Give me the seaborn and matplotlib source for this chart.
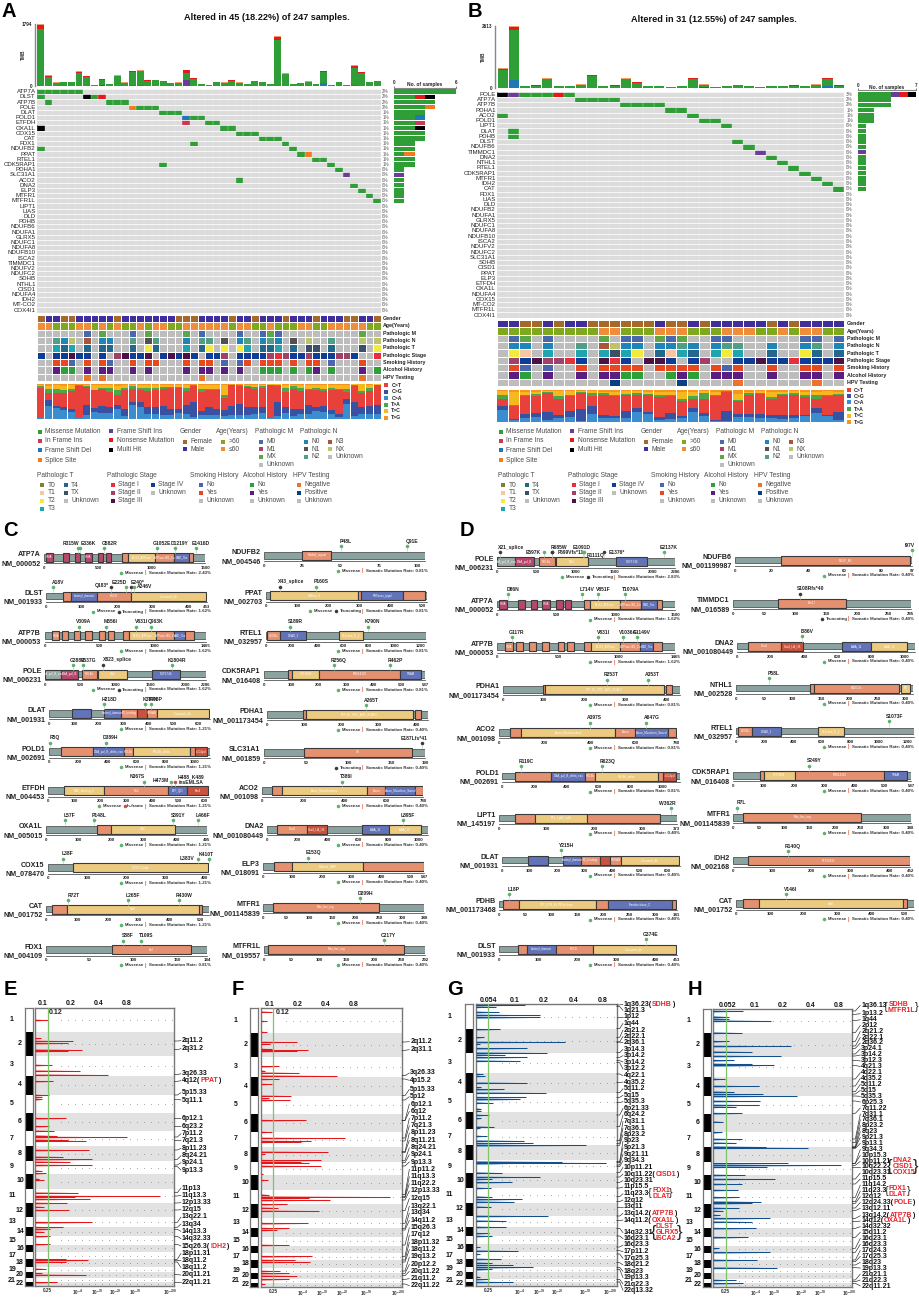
import numpy as np
import seaborn as sns
import matplotlib
matplotlib.use("Agg")
import matplotlib.pyplot as plt
from matplotlib.colors import ListedColormap
from matplotlib.patches import Rectangle
from matplotlib.ticker import NullLocator

# ---- oncoplot A ----
title_a = "Altered in 45 (18.22%) of 247 samples."
genes_a = ["ATP7A", "DLST", "ATP7B", "POLE", "DLAT", "POLD1", "ETFDH", "OXA1L", "COX15", "CAT", "FDX1",
           "NDUFB2", "PPAT", "RTEL1", "CDK5RAP1", "PDHA1", "SLC31A1", "ACO2", "DNA2", "ELP3", "MTFR1",
           "MTFR1L", "LIPT1", "LIAS", "DLD", "PDHB", "NDUFB6", "NDUFA1", "GLRX5", "NDUFC1", "NDUFA8",
           "NDUFB10", "ISCA2", "TIMMDC1", "NDUFV2", "NDUFC2", "SDHB", "NTHL1", "CISD1", "NDUFA4", "IDH2",
           "MT-CO2", "COX4I1"]
pct_a = ["2%"] * 4 + ["1%"] * 11 + ["0%"] * 28
# M missense, D fs del, I inframe ins, S splice, P fs ins, N nonsense, X multi hit
muts_a = [("ATP7A", "M", [0, 1, 2, 3, 4, 5]), ("DLST", "M", [0, 7]), ("DLST", "X", [6]), ("DLST", "N", [8]),
          ("ATP7B", "M", [1, 9, 10, 11]), ("POLE", "S", [12]), ("POLE", "M", [13, 14, 15]),
          ("DLAT", "M", [16, 17, 18]), ("POLD1", "D", [19]), ("POLD1", "M", [20, 21]), ("ETFDH", "I", [19]),
          ("ETFDH", "M", [22, 23]), ("OXA1L", "X", [0]), ("OXA1L", "M", [24, 25]), ("COX15", "M", [26, 27, 28]),
          ("CAT", "M", [29, 30, 31]), ("FDX1", "M", [20, 32]), ("NDUFB2", "M", [0, 33]), ("PPAT", "M", [34]),
          ("PPAT", "S", [35]), ("RTEL1", "M", [36, 37]), ("CDK5RAP1", "M", [16, 38]), ("PDHA1", "M", [39]),
          ("SLC31A1", "P", [40]), ("ACO2", "M", [26]), ("DNA2", "M", [41]), ("ELP3", "M", [42]),
          ("MTFR1", "M", [43]), ("MTFR1L", "M", [44])]
tmb_a = [1794, 292, 88, 98, 98, 410, 273, 29, 195, 58, 292, 88, 419, 448, 156, 175, 136, 78, 88, 458,
         214, 58, 20, 107, 88, 156, 88, 49, 136, 98, 49, 1433, 351, 39, 78, 117, 58, 429, 29, 98,
         20, 585, 390, 107, 136]
tmb_a_red = [117, 25, 5, 5, 5, 25, 25, 3, 20, 5, 20, 5, 25, 25, 8, 8, 8, 3, 3, 60,
             15, 3, 0, 5, 5, 8, 5, 3, 8, 5, 0, 70, 20, 0, 5, 5, 0, 15, 0, 5, 0, 50, 25, 5, 5]
tmb_a_top = [39, 10, 3, 3, 3, 10, 8, 2, 8, 3, 8, 3, 10, 12, 5, 5, 5, 3, 3, 20,
             8, 3, 1, 4, 3, 5, 3, 2, 5, 4, 2, 25, 8, 1, 3, 4, 3, 12, 1, 4, 1, 15, 8, 4, 5]
tmb_a_low = {8: (20, "P"), 12: (10, "D"), 13: (15, "D"), 19: (175, "P"), 37: (78, "D"), 41: (20, "D")}
gender_a = "FMMFFMMMMMFMMMMMMMFFFMMMMFMMFMMMFMMMFMMMFFMMF"
age_a = "OOGGGOOGOGOGGOGOOGGOOOOOOGOOGGOGGGOOGGOOOOOGG"
m_a = {6: "0", 8: "X", 12: "0", 14: "X", 19: "X", 21: "0", 26: "0", 29: "0", 30: "X", 31: "0", 42: "X"}
n_a = {2: "2", 3: "0", 4: "X", 6: "3", 8: "0", 9: "0", 12: "2", 14: "1", 15: "2", 19: "0", 21: "2", 22: "2",
       24: "1", 26: "0", 27: "2", 29: "0", 30: "2", 31: "0", 33: "1", 35: "X", 38: "2", 42: "X", 44: "X"}
t_a = {2: "3", 3: "4", 4: "3", 6: "4", 8: "4", 9: "4", 12: "4", 14: "2", 15: "4", 19: "3", 21: "4", 22: "2",
       24: "2", 26: "2", 27: "3", 29: "4", 30: "4", 31: "3", 33: "4", 35: "X", 36: "X", 38: "4", 42: "X", 44: "2"}
stage_a = {0: "4", 2: "4", 3: "4", 4: "3", 5: "4", 6: "4", 8: "4", 10: "2", 11: "3", 12: "4", 13: "4", 14: "3",
           16: "4", 17: "3", 18: "4", 19: "3", 20: "4", 22: "4", 23: "4", 24: "2", 26: "4", 27: "4", 28: "4",
           29: "4", 30: "2", 31: "1", 32: "2", 33: "4", 34: "4", 35: "2", 36: "4", 37: "4", 38: "4", 39: "2",
           40: "2", 41: "4", 44: "1"}
smoke_a = {2: "Y", 3: "Y", 4: "N", 6: "Y", 8: "Y", 9: "N", 12: "Y", 14: "Y", 15: "Y", 19: "Y", 21: "Y", 22: "Y",
           24: "N", 26: "N", 27: "Y", 29: "Y", 30: "Y", 31: "Y", 33: "Y", 35: "Y", 36: "Y", 38: "N", 42: "Y"}
alcohol_a = {2: "Y", 3: "N", 4: "N", 6: "Y", 8: "Y", 9: "Y", 12: "Y", 14: "Y", 19: "Y", 21: "Y", 22: "Y", 24: "Y",
             26: "Y", 29: "N", 30: "N", 31: "N", 33: "N", 35: "N", 36: "Y", 38: "N", 42: "Y", 44: "N"}
hpv_a = {6: "N", 8: "N", 21: "N", 42: "N"}
# per sample: C>A, C>G, C>T, T>A, T>C (rest is T>G), percent
spec_a = [(3, 0, 87, 5, 3), (38, 15, 20, 12, 10), (32, 5, 38, 12, 10), (27, 8, 40, 7, 12), (20, 10, 50, 6, 10),
          (3, 1, 90, 2, 2), (12, 28, 52, 3, 3), (20, 12, 50, 2, 14), (18, 20, 48, 3, 8), (18, 15, 45, 10, 8),
          (28, 12, 30, 12, 13), (10, 18, 55, 5, 8), (40, 10, 35, 8, 5), (35, 13, 35, 7, 7), (15, 20, 45, 10, 7),
          (15, 18, 50, 5, 8), (12, 25, 50, 5, 5), (12, 18, 58, 4, 5), (16, 12, 60, 4, 5), (15, 25, 40, 10, 6),
          (5, 45, 44, 2, 2), (12, 10, 55, 8, 12), (12, 22, 48, 5, 10), (12, 16, 55, 3, 10), (10, 15, 35, 8, 28),
          (12, 26, 58, 1, 1), (12, 30, 52, 2, 2), (12, 22, 58, 3, 3), (15, 20, 52, 5, 6), (18, 15, 57, 4, 4),
          (3, 1, 92, 2, 1), (8, 40, 45, 3, 3), (18, 15, 45, 10, 8), (10, 20, 55, 8, 5), (15, 15, 50, 8, 10),
          (15, 26, 42, 3, 12), (22, 12, 50, 5, 8), (20, 18, 42, 7, 10), (15, 10, 58, 5, 10), (5, 8, 70, 3, 12),
          (42, 15, 20, 10, 10), (10, 40, 45, 3, 1), (14, 20, 40, 5, 20), (14, 22, 45, 7, 10), (14, 27, 55, 1, 2)]

# ---- oncoplot B ----
title_b = "Altered in 31 (12.55%) of 247 samples."
genes_b = ["POLE", "ATP7A", "ATP7B", "PDHA1", "ACO2", "POLD1", "LIPT1", "DLAT", "PDHB", "DLST", "NDUFB6", "TIMMDC1",
           "DNA2", "NTHL1", "RTEL1", "CDK5RAP1", "MTFR1", "IDH2", "CAT", "FDX1", "LIAS", "DLD", "NDUFB2", "NDUFA1",
           "GLRX5", "NDUFC1", "NDUFA8", "NDUFB10", "ISCA2", "NDUFV2", "NDUFC2", "SLC31A1", "SDHB", "CISD1", "PPAT",
           "ELP3", "ETFDH", "OXA1L", "NDUFA4", "COX15", "MT-CO2", "MTFR1L", "COX4I1"]
pct_b = ["3%", "2%", "2%", "1%", "1%", "1%"] + ["0%"] * 37
muts_b = [("POLE", "X", [0]), ("POLE", "P", [1]), ("POLE", "M", [2, 3, 4, 6]), ("POLE", "N", [5]),
          ("ATP7A", "M", [7, 8, 9, 10]), ("ATP7B", "M", [11, 12, 13, 14]), ("PDHA1", "M", [15, 16]),
          ("ACO2", "M", [0, 17]), ("POLD1", "M", [18, 19]), ("LIPT1", "M", [20]), ("DLAT", "M", [1]),
          ("PDHB", "M", [1]), ("DLST", "M", [21]), ("NDUFB6", "M", [22]), ("TIMMDC1", "P", [23]), ("DNA2", "M", [24]),
          ("NTHL1", "M", [25]), ("RTEL1", "M", [26]), ("CDK5RAP1", "M", [27]), ("MTFR1", "M", [28]),
          ("IDH2", "M", [29]), ("CAT", "M", [30])]
tmb_b = [820, 2613, 70, 100, 395, 85, 85, 140, 535, 70, 100, 395, 240, 56, 56, 28, 56, 410, 140, 20,
         70, 110, 70, 15, 70, 70, 100, 85, 140, 410, 100]
tmb_b_red = [60, 120, 3, 5, 25, 8, 5, 8, 35, 8, 10, 20, 15, 3, 3, 0, 3, 20, 15, 0, 3, 10, 3, 0, 3, 8, 5, 3, 8, 20, 8]
tmb_b_top = [20, 60, 2, 3, 10, 3, 3, 5, 15, 3, 3, 10, 8, 2, 2, 1, 2, 10, 5, 3, 2, 3, 2, 3, 2, 3, 3, 3, 5, 15, 3]
tmb_b_low = {1: (310, "D"), 18: (50, "P"), 29: (70, "D")}
gender_b = "MMFFMFMMFFFFFFMFFMFMMMMMFMFMMMM"
age_b = "GGGGGGGGGOOGGGOOOGGGOOOGGOGOOGG"
m_b = {1: "0", 2: "X", 4: "0", 9: "X", 11: "0", 12: "0", 14: "X", 15: "0", 16: "X", 19: "0", 20: "0", 27: "0",
       28: "0", 30: "0"}
n_b = {1: "0", 2: "0", 4: "0", 7: "2", 9: "3", 10: "X", 11: "0", 12: "0", 14: "0", 15: "0", 16: "2", 17: "0",
       19: "0", 20: "2", 21: "2", 24: "0", 27: "0", 28: "2", 30: "0"}
t_b = {1: "2", 2: "1", 4: "3", 7: "3", 9: "3", 10: "X", 11: "3", 12: "2", 14: "4", 15: "1", 16: "3", 17: "4",
       19: "3", 20: "2", 21: "3", 24: "4", 27: "2", 28: "4", 30: "4"}
stage_b = {1: "2", 2: "4", 3: "3", 4: "2", 5: "2", 6: "1", 7: "4", 9: "3", 10: "1", 11: "4", 13: "3", 14: "3",
           15: "4", 17: "4", 18: "2", 21: "4", 22: "4", 23: "3", 24: "4", 25: "4", 26: "1", 27: "4", 28: "4",
           29: "4", 30: "3"}
smoke_b = {1: "Y", 2: "N", 4: "N", 7: "Y", 9: "Y", 10: "Y", 11: "Y", 12: "Y", 14: "Y", 15: "Y", 16: "Y", 17: "Y",
           19: "Y", 20: "N", 21: "Y", 24: "Y", 27: "Y", 28: "Y", 30: "Y"}
alcohol_b = {1: "Y", 2: "N", 4: "Y", 7: "Y", 9: "Y", 10: "Y", 11: "N", 12: "N", 15: "N", 16: "Y", 17: "N", 19: "Y",
             20: "Y", 21: "Y", 24: "Y", 27: "Y", 28: "Y", 30: "Y"}
hpv_b = {10: "P", 16: "P", 21: "N", 28: "N"}
spec_b = [(38, 13, 20, 15, 10), (6, 4, 40, 3, 42), (12, 14, 55, 5, 8), (15, 15, 52, 6, 7), (8, 25, 58, 3, 3),
          (13, 10, 50, 8, 15), (15, 20, 45, 6, 10), (5, 35, 50, 3, 4), (25, 25, 32, 8, 6), (12, 12, 60, 6, 5),
          (12, 8, 60, 5, 10), (14, 20, 50, 3, 9), (33, 12, 38, 8, 5), (25, 8, 50, 5, 7), (8, 8, 62, 5, 12),
          (10, 20, 50, 5, 10), (12, 8, 45, 8, 22), (33, 12, 27, 10, 12), (18, 12, 42, 20, 5), (5, 3, 72, 5, 10),
          (4, 30, 60, 2, 2), (15, 12, 40, 3, 18), (15, 12, 58, 5, 4), (12, 15, 62, 3, 5), (12, 12, 48, 5, 18),
          (10, 14, 60, 5, 5), (14, 8, 62, 6, 6), (18, 6, 55, 6, 10), (30, 15, 28, 10, 12), (20, 3, 58, 3, 12),
          (8, 25, 52, 3, 5)]

# ---- lollipop proteins: id, length, axis ticks ----
nm_ids = {"ATP7A": "NM_000052", "DLST": "NM_001933", "ATP7B": "NM_000053", "POLE": "NM_006231", "DLAT": "NM_001931",
          "POLD1": "NM_002691", "ETFDH": "NM_004453", "OXA1L": "NM_005015", "COX15": "NM_078470", "CAT": "NM_001752",
          "FDX1": "NM_004109", "NDUFB2": "NM_004546", "PPAT": "NM_002703", "RTEL1": "NM_032957",
          "CDK5RAP1": "NM_016408", "PDHA1": "NM_001173454", "SLC31A1": "NM_001859", "ACO2": "NM_001098",
          "DNA2": "NM_001080449", "ELP3": "NM_018091", "MTFR1": "NM_001145839", "MTFR1L": "NM_019557",
          "NDUFB6": "NM_001199987", "TIMMDC1": "NM_016589", "NTHL1": "NM_002528", "LIPT1": "NM_145197",
          "PDHB": "NM_001173468", "IDH2": "NM_002168"}
lengths = {"ATP7A": 1500, "DLST": 453, "ATP7B": 1465, "POLE": 2286, "DLAT": 647, "POLD1": 1107, "ETFDH": 617,
           "OXA1L": 495, "COX15": 410, "CAT": 527, "FDX1": 184, "NDUFB2": 105, "PPAT": 517, "RTEL1": 1243,
           "CDK5RAP1": 587, "PDHA1": 432, "SLC31A1": 190, "ACO2": 780, "DNA2": 1060, "ELP3": 547, "MTFR1": 348,
           "MTFR1L": 292, "NDUFB6": 97, "TIMMDC1": 285, "NTHL1": 312, "LIPT1": 373, "PDHB": 341, "IDH2": 452}
ticks = {"ATP7A": [0, 500, 1000, 1500], "DLST": [0, 100, 200, 300, 400, 453], "ATP7B": [0, 500, 1000, 1465],
         "POLE": [0, 500, 1000, 1500, 2000, 2286], "DLAT": [0, 100, 200, 300, 400, 500, 600],
         "POLD1": [0, 200, 400, 600, 800, 1000], "ETFDH": [0, 100, 200, 300, 400, 500, 600],
         "OXA1L": [0, 100, 200, 300, 400, 495], "COX15": [0, 100, 200, 300, 400],
         "CAT": [0, 100, 200, 300, 400, 500], "FDX1": [0, 50, 100, 150, 184], "NDUFB2": [0, 25, 50, 75, 100],
         "PPAT": [0, 100, 200, 300, 400, 500], "RTEL1": [0, 200, 400, 600, 800, 1000, 1200],
         "CDK5RAP1": [0, 100, 200, 300, 400, 500, 587], "PDHA1": [0, 100, 200, 300, 400],
         "SLC31A1": [0, 50, 100, 150, 190], "ACO2": [0, 200, 400, 600, 780], "DNA2": [0, 200, 400, 600, 800, 1000],
         "ELP3": [0, 100, 200, 300, 400, 500, 547], "MTFR1": [0, 50, 100, 150, 200, 250, 300, 348],
         "MTFR1L": [0, 50, 100, 150, 200, 250, 292], "NDUFB6": [0, 20, 40, 60, 80, 97],
         "TIMMDC1": [0, 50, 100, 150, 200, 250, 285], "NTHL1": [0, 50, 100, 150, 200, 250, 300],
         "LIPT1": [0, 100, 200, 300, 373], "PDHB": [0, 50, 100, 150, 200, 250, 300, 341],
         "IDH2": [0, 100, 200, 300, 400, 452]}
# start, end, kind, name
domains = {
    "ATP7A": [(12, 78, "m", "HMA"), (174, 233, "m", ""), (283, 335, "m", ""), (379, 441, "m", "HMA"), (497, 550, "m", ""),
              (571, 624, "m", ""), (727, 783, "s", ""), (783, 1031, "y", "E1-E2_ATPase"), (1031, 1211, "s", "ATPase-IB1_Cu"),
              (1211, 1345, "b", "HAD_like"), (1345, 1388, "s", "")],
    "DLST": [(47, 70, "s", ""), (70, 144, "b", "biotinyl_domain"), (144, 238, "s", "PSCD"), (238, 450, "y", "2-oxoacid_dh")],
    "ATP7B": [(67, 130, "s", "HMA"), (155, 215, "s", ""), (264, 322, "s", ""), (367, 428, "s", ""), (497, 552, "s", ""),
              (573, 628, "s", ""), (713, 770, "s", ""), (770, 1013, "y", "E1-E2_ATPase"), (1013, 1177, "s", "ATPase-IB1_Cu"),
              (1177, 1280, "b", "HAD_like"), (1280, 1356, "s", "")],
    "POLE": [(0, 223, "g", "DNA_pol_B_exo"), (223, 474, "m", "DNA_pol_B"), (531, 735, "s", "POLBc"), (749, 1167, "y", "Pol2"),
             (1527, 1925, "b", "DUF1744")],
    "DLAT": [(92, 167, "b", ""), (221, 288, "b", "biotinyl_domain"), (288, 355, "s", "E3_binding"), (355, 392, "r", ""),
             (392, 433, "s", "PDHAB"), (433, 644, "y", "2-oxoacid_dh")],
    "POLD1": [(82, 305, "s", ""), (305, 516, "b", "DNA_pol_B_delta_exo"), (516, 580, "s", "POLBc"), (580, 972, "y", "POLBc_delta"),
              (972, 1004, "s", ""), (1004, 1084, "r", "zf-C4pol")],
    "ETFDH": [(61, 215, "y", "NAD_binding_8"), (215, 460, "s", "FixC"), (460, 533, "b", "ETF_QO"), (533, 613, "r", "Fer4")],
    "OXA1L": [(156, 200, "s", ""), (200, 397, "y", "YidC")],
    "COX15": [(65, 407, "y", "COX15-CtaA")],
    "CAT": [(19, 68, "s", ""), (68, 495, "y", "KatE"), (495, 505, "s", "")],
    "FDX1": [(75, 166, "s", "fer2")],
    "NDUFB2": [(25, 44, "s", "Ndufb2_signal")],
    "PPAT": [(13, 295, "y", "GATase_6"), (295, 305, "s", ""), (305, 440, "b", "PRTases_typeI"), (440, 510, "s", "")],
    "RTEL1": [(13, 111, "s", "DEXDc"), (111, 312, "b", "DEAD_2"), (570, 757, "y", "Helicase_C_2")],
    "CDK5RAP1": [(87, 101, "s", ""), (101, 202, "y", "UPF0004"), (202, 497, "s", "PRK14329"), (497, 574, "b", "TRAM")],
    "PDHA1": [(97, 103, "s", ""), (103, 393, "y", "TPP_E1_PDC_ADC_BCADC"), (397, 412, "s", "")],
    "SLC31A1": [(47, 175, "s", "Ctr")],
    "ACO2": [(48, 96, "s", ""), (96, 510, "y", "Acon_Mitochondrial"), (510, 595, "s", "Acon"), (595, 740, "b", "Acon_Mitochon_Swivel"),
             (740, 777, "s", "")],
    "DNA2": [(66, 261, "s", "Dna2"), (261, 395, "r", "Cas4_I-A_I-B"), (623, 800, "b", "AAA_11"), (800, 1012, "y", "AAA_12")],
    "ELP3": [(37, 97, "s", ""), (97, 340, "y", "Radical_SAM"), (340, 545, "s", "")],
    "MTFR1": [(20, 251, "s", "Mito_fiss_reg")],
    "MTFR1L": [(8, 254, "s", "Mito_fiss_reg")],
    "NDUFB6": [(25, 96, "s", "NDUF_B6")],
    "TIMMDC1": [(73, 182, "s", "Tim17")],
    "NTHL1": [(130, 137, "s", ""), (137, 288, "s", "ENDO3c"), (292, 308, "y", "PE")],
    "LIPT1": [(32, 75, "s", ""), (75, 185, "y", "BPL_LplA_LipB"), (185, 337, "s", "")],
    "PDHB": [(7, 37, "s", ""), (37, 185, "y", "TPP_PYR_E1-PDHc-beta"), (185, 208, "s", ""), (208, 332, "b", "Transketolase_C"),
             (332, 340, "s", "")],
    "IDH2": [(38, 450, "s", "PTZ00435")],
}
# residue, label, class (m missense, t truncating, i in-frame)
muts_c = {"ATP7A": [(315, "R315W", "m"), (336, "E336K", "m"), (559, "G582R", "m"), (1050, "G1052E", "m"),
                    (1217, "D1219Y", "m"), (1413, "E1416D", "m")],
          "DLST": [(18, "A18V", "m"), (183, "Q183*", "t"), (225, "E225D", "m"), (240, "E240*", "t"), (246, "A246V", "m")],
          "ATP7B": [(312, "V309A", "m"), (558, "M556I", "m"), (831, "V831I", "m"), (963, "Q963K", "m")],
          "POLE": [(394, "G388V", "m"), (540, "E537G", "m"), (825, "X823_splice", "t"), (1807, "K1804R", "m")],
          "DLAT": [(221, "H218D", "m"), (387, "K387N", "m"), (408, "T408P", "m")],
          "POLD1": [(5, "R5Q", "m"), (389, "D389H", "m")],
          "ETFDH": [(367, "N367S", "m"), (471, "H473M", "m"), (484, "H488_K489\ninsEMLSA", "i")],
          "OXA1L": [(57, "L57F", "m"), (148, "P148L", "m"), (391, "S391Y", "m"), (466, "L466F", "m")],
          "COX15": [(38, "L38F", "m"), (383, "L383V", "m"), (410, "K410T", "m")],
          "CAT": [(72, "R72T", "m"), (265, "L265F", "m"), (430, "R430W", "m")],
          "FDX1": [(88, "S88F", "m"), (109, "T109S", "m")],
          "NDUFB2": [(50, "P48L", "m"), (93, "Q91E", "m")],
          "PPAT": [(43, "X43_splice", "t"), (160, "P160S", "m")],
          "RTEL1": [(190, "S189R", "m"), (790, "K790N", "m")],
          "CDK5RAP1": [(255, "R256Q", "m"), (460, "R462P", "m")],
          "PDHA1": [(265, "A265T", "m")],
          "SLC31A1": [(187, "E187Lfs*41", "t")],
          "ACO2": [(386, "T386I", "m")],
          "DNA2": [(895, "L895F", "m")],
          "ELP3": [(153, "E153Q", "m")],
          "MTFR1": [(209, "D209H", "m")],
          "MTFR1L": [(217, "C217Y", "m")]}
muts_d = {"POLE": [(30, "X21_splice", "t"), (597, "E597K", "m"), (700, "R685W", "t"), (708, "F699Vfs*11", "t"),
                   (1105, "E1091D", "m"), (1115, "R1111Q", "m"), (1376, "E1376*", "t"), (2137, "E2137K", "m")],
          "ATP7A": [(90, "D86N", "m"), (714, "L714V", "m"), (851, "V851F", "m"), (1079, "T1079A", "m")],
          "ATP7B": [(117, "G117R", "m"), (831, "V831I", "m"), (1036, "V1036A", "m"), (1149, "G1149V", "m")],
          "PDHA1": [(253, "R253T", "m"), (353, "A353T", "m")],
          "ACO2": [(397, "A397S", "m"), (647, "A647G", "m")],
          "POLD1": [(119, "R119C", "m"), (623, "R623Q", "m")],
          "LIPT1": [(362, "W362R", "m")],
          "DLAT": [(215, "Y215H", "m")],
          "PDHB": [(18, "L18P", "m")],
          "DLST": [(374, "G374E", "m")],
          "NDUFB6": [(97, "I97V", "m")],
          "TIMMDC1": [(108, "S108Rfs*40", "t")],
          "DNA2": [(386, "I386V", "m")],
          "NTHL1": [(58, "P58L", "m")],
          "RTEL1": [(1073, "S1073F", "m")],
          "CDK5RAP1": [(249, "S249Y", "m")],
          "MTFR1": [(7, "R7L", "m")],
          "IDH2": [(140, "R140Q", "m")],
          "CAT": [(146, "V146I", "m")]}
rates_c = {"ATP7A": 2.43, "DLST": 1.62, "ATP7B": 1.62, "POLE": 1.62, "DLAT": 1.21, "POLD1": 1.21, "ETFDH": 1.21,
           "OXA1L": 1.21, "COX15": 1.21, "CAT": 1.21, "FDX1": 0.81, "NDUFB2": 0.81, "PPAT": 0.81, "RTEL1": 0.81,
           "CDK5RAP1": 0.81, "PDHA1": 0.40, "SLC31A1": 0.40, "ACO2": 0.40, "DNA2": 0.40, "ELP3": 0.40, "MTFR1": 0.40,
           "MTFR1L": 0.40}
rates_d = {"POLE": 2.83, "ATP7A": 1.62, "ATP7B": 1.62, "PDHA1": 0.81, "ACO2": 0.81, "POLD1": 0.81, "LIPT1": 0.40,
           "DLAT": 0.40, "PDHB": 0.40, "DLST": 0.40, "NDUFB6": 0.40, "TIMMDC1": 0.40, "DNA2": 0.40, "NTHL1": 0.40,
           "RTEL1": 0.40, "CDK5RAP1": 0.40, "MTFR1": 0.40, "IDH2": 0.40, "CAT": 0.40}

# ---- GISTIC peaks: genome position, G-score ----
pos_e = [120, 175, 183, 190, 209, 213, 255, 272, 284, 304, 345, 352, 358, 415, 439, 452, 467, 471, 479, 482, 510, 530,
         538, 545, 555, 572, 580, 596, 600, 638, 648, 650, 657, 669, 680, 690, 727, 742, 748, 755, 769, 793, 838, 841,
         846, 866, 880, 884, 907]
score_e = [.114, .096, .212, .19, .264, .19, .126, .254, .5, .131, .118, .098, .098, .18, .119, .133, .145, .8, .19, .292,
           .316, .168, .342, .198, .339, .098, .109, .093, .103, .243, 1.84, .224, .325, .183, .103, .194, .344, .168,
           .121, .103, .121, .121, .178, .312, .178, .108, .098, .292, .143]
pos_f = [95, 123, 156, 186, 192, 207, 211, 213, 259, 272, 278, 287, 297, 312, 347, 355, 360, 421, 456, 474, 483, 485, 515,
         522, 541, 545, 548, 558, 582, 600, 644, 650, 653, 660, 673, 683, 692, 730, 745, 750, 771, 795, 829, 840, 846,
         873, 880, 887, 898, 912]
score_f = [.106, .094, .094, .2, .102, .106, .262, .2, .128, .09, .21, .53, .127, .106, .17, .098, .167, .248, .106, .65,
           .278, .22, .43, .09, .355, .22, .266, .355, .085, .096, .098, 1.96, .266, .45, .153, .123, .34, .258, .164, .12,
           .082, .164, .29, .19, .275, .13, .164, .197, .164, .09]
pos_g = [75, 80, 96, 105, 112, 148, 172, 186, 192, 205, 218, 224, 232, 242, 282, 288, 308, 322, 328, 338, 352, 358, 368,
         386, 392, 405, 415, 440, 445, 468, 482, 490, 496, 545, 548, 550, 578, 591, 597, 607, 624, 650, 658, 665, 680, 708,
         722, 741, 760, 768, 801, 812, 822, 837, 848, 855, 862, 868, 890, 898, 906]
score_g = [.128, .065, .07, .183, .183, .072, .049, .333, .044, .134, .216, .08, .134, .114, .048, .05, .134, .046, .079,
           .211, .132, .114, .06, .046, .046, .055, .046, .062, .044, .052, .124, .154, .545, .305, .865, .1, .074, .183,
           .059, .094, .058, .059, .12, .1, .057, .223, .082, .082, .055, .059, .044, .11, .044, .073, .059, .096, .154, .059,
           .044, .055, .096]
pos_h = [93, 110, 116, 122, 158, 184, 198, 215, 228, 241, 252, 256, 297, 318, 335, 342, 348, 363, 375, 380, 400, 425, 457,
         477, 488, 500, 503, 550, 556, 560, 585, 597, 612, 630, 652, 665, 670, 684, 692, 705, 715, 725, 745, 772, 805, 817,
         840, 863, 900, 910]
score_h = [.075, .052, .053, .147, .073, .052, .244, .092, .19, .06, .092, .16, .048, .11, .06, .123, .28, .113, .11, .063,
           .072, .045, .044, .073, .063, .131, .37, .228, .85, .135, .078, .164, .072, .065, .067, .116, .092, .067, .045,
           .042, .145, .092, .102, .085, .041, .145, .105, .174, .063, .075]

# chromosome band ends on the genome axis of panels E, F, H and of panel G
chr_ends_efh = [155, 228, 287, 345, 400, 454, 498, 543, 582, 627, 670, 710, 742, 768, 794, 816, 838, 862, 875, 895, 905, 917]
chr_ends_g = [148, 220, 280, 338, 395, 448, 495, 540, 578, 624, 668, 708, 741, 768, 793, 815, 838, 862, 876, 897, 905, 918]

cyto_e = ["2q11.2", "2q31.2", "3q26.33", "4q12(PPAT)", "5p15.33", "5q11.1", "6p12.1", "6q23.2", "7p11.2", "7q21.3", "8p11.23",
          "8q24.21", "9p24.1", "9p13.3", "11p13", "11q13.3", "12p13.33", "12q15", "13q22.1", "13q34", "14q13.3", "14q32.33",
          "15q26.3(IDH2)", "18p11.31", "18q11.2", "18q11.2", "20q11.21", "22q11.21"]
cyto_e_peak = [183, 209, 284, 304, 345, 358, 415, 439, 471, 482, 510, 538, 555, 560, 638, 648, 669, 690, 727, 742, 748, 769,
               793, 838, 841, 846, 884, 907]
cyto_f = ["2q11.2", "2q31.1", "3q26.33", "4p15.2", "5p15.33", "5p12", "6p12.1", "6q12", "7p11.2", "7q21.3", "8p11.23", "8q11.21",
          "8q24.21", "9p24.1", "9p13.3", "11p11.2", "11q13.3", "11q22.2", "12p13.33", "12q15", "13q22.1", "13q34", "14q11.2",
          "15q26.3", "17q12", "18p11.32", "18q11.2", "19q13.2", "20p12.2", "20q11.22", "21q11.2", "22q11.22"]
cyto_f_peak = [186, 211, 287, 297, 347, 360, 421, 422, 474, 483, 515, 518, 541, 548, 558, 644, 650, 653, 660, 692, 730, 745, 750,
               795, 829, 840, 846, 873, 880, 887, 898, 912]
cyto_g = ["1q36.23(SDHB)", "1q21.3", "1p12", "1q44", "2q21.2", "2q22.1", "2q36.1", "3p14.3", "3p14.2", "3p14.2", "3p12.2", "4q22.1",
          "4q35.2", "5q11.2", "5q15", "5q35.3", "6p21.33", "6q24.2", "7q31.1", "7q36.1", "8p23.2", "9p23", "9p21.3", "9q21.11",
          "9q34.3", "10p11.21", "10q11.22(CISD1)", "10q23.31", "11p15.5", "11q23.3", "12q12", "13q11", "13q14.2(ATP7B)",
          "14q11.2(OXA1L)", "14q32.31", "16q23.1", "16q23.3", "17p11.2", "17q25.3", "18q21.2", "18q23", "19p13.3", "21q22.3",
          "22q13.32"]
cyto_g_peak = [75, 80, 110, 146, 172, 186, 186, 218, 232, 242, 248, 282, 308, 338, 352, 368, 405, 440, 482, 490, 496, 545, 548,
               555, 560, 578, 591, 607, 624, 650, 665, 680, 708, 722, 745, 768, 801, 812, 822, 848, 862, 868, 898, 906]
cyto_h = ["1q36.13", "1p13.2", "1q44", "2p12", "2q21.2", "2q22.1", "2q36.2", "3p24.1", "3p14.2", "3p12.3", "4q21.3", "4q22.1", "4q35.2",
          "5q11.2", "5q15", "5q35.3", "6p25.3", "7q11.22", "7q31.1", "7q36.1", "8p23.2", "8q23", "9p21.3", "9p13.1", "9q34.3",
          "10p15.3", "10p11.21", "10q22.2", "10q23.31", "11p15.5", "11q14.2", "11q23.3", "12q12", "12q24.33(POLE)", "13q12.11",
          "13q14.2(ATP7B)", "14q12(OXA1L)", "14q32.32", "15q11.2", "16q23.1", "16q23.3", "17q24.3", "17q25.3", "18q23", "19p13.3",
          "21q21.1", "21q22.3", "22q11.21"]
cyto_h_peak = [93, 103, 122, 158, 184, 198, 205, 222, 228, 241, 256, 297, 318, 335, 342, 348, 363, 400, 477, 488, 500, 503, 503, 505,
               550, 550, 556, 560, 597, 612, 652, 665, 670, 684, 692, 715, 725, 745, 772, 805, 817, 840, 845, 855, 863, 900, 905, 910]

# ---- colours ----
mut_colors = {"M": "#2f9e37", "D": "#1f78b4", "I": "#c93a55", "S": "#f47a1f", "P": "#6a3d9a", "N": "#e31a1c", "X": "#000000"}
mut_names = {"M": "Missense Mutation", "I": "In Frame Ins", "D": "Frame Shift Del", "S": "Splice Site",
             "P": "Frame Shift Ins", "N": "Nonsense Mutation", "X": "Multi Hit"}
unknown = "#bdbdbd"
track_names = ["Gender", "Age(Years)", "Pathologic M", "Pathologic N", "Pathologic T", "Pathologic Stage", "Smoking History",
               "Alcohol History", "HPV Testing"]
track_pal = [{"F": "#a6692a", "M": "#3f2e9b"}, {"G": "#7fa81e", "O": "#f08d3a"},
             {"0": "#4a69ad", "1": "#ab3f68", "X": "#5ea648", "U": unknown},
             {"0": "#1f84b8", "1": "#54504f", "2": "#4f9e85", "3": "#a8553a", "X": "#bcc46b", "U": unknown},
             {"0": "#81812f", "1": "#f8c6a3", "2": "#f2ea3c", "3": "#20a5b0", "4": "#23688c", "X": "#3a5068", "U": unknown},
             {"1": "#e8303a", "2": "#a0416a", "3": "#4a1245", "4": "#0f3c96", "U": unknown},
             {"N": "#4c66ae", "Y": "#e8481f", "U": unknown}, {"N": "#2ea03a", "Y": "#5a1e82", "U": unknown},
             {"N": "#e8752a", "P": "#0a4080", "U": unknown}]
spec_colors = ["#3a8ed0", "#3951a3", "#e8413c", "#4da64a", "#f5b81e", "#f7941d"]
spec_names = ["C>T", "C>G", "C>A", "T>A", "T>C", "T>G"]
spec_legend = ["#e8413c", "#3951a3", "#3a8ed0", "#4da64a", "#f5b81e", "#f7941d"]
dom_colors = {"s": "#e5906e", "y": "#ecca7f", "b": "#6273b8", "m": "#b8476c", "r": "#c9533f", "g": "#9aa9a6"}

sns.set_theme(style="white")
plt.rcParams["font.family"] = ["Liberation Sans", "DejaVu Sans"]
plt.rcParams["mathtext.default"] = "regular"
plt.rcParams["axes.unicode_minus"] = False
plt.rcParams["patch.force_edgecolor"] = False  # seaborn puts white edges on bars otherwise

W, H = 920, 1298
fig = plt.figure(figsize=(W / 100, H / 100), dpi=100, facecolor="white")


def ax_px(x0, y0, x1, y1):
    ax = fig.add_axes([x0 / W, 1 - y1 / H, (x1 - x0) / W, (y1 - y0) / H])
    ax.patch.set_alpha(0)
    return ax


# everything that is only annotation goes on this one, in pixels
ov = ax_px(0, 0, W, H)
ov.set_xlim(0, W)
ov.set_ylim(H, 0)
ov.axis("off")
ov.set_zorder(10)


def draw_oncoplot(genes, pct, muts, tmb, red, top, low, tracks, spec, title, lay):
    n = len(tmb)
    x0, x1 = lay["x"]
    # mutation matrix
    order = list(mut_colors)
    mat = np.zeros((len(genes), n), dtype=int)
    counts = {g: {k: 0 for k in order} for g in genes}
    for gene, kind, cols in muts:
        for c in cols:
            mat[genes.index(gene), c] = order.index(kind) + 1
            counts[gene][kind] += 1
    ax = ax_px(x0, lay["mat"][0], x1, lay["mat"][1])
    sns.heatmap(mat, ax=ax, cmap=ListedColormap(["#dcdcdc"] + [mut_colors[k] for k in order]), vmin=0, vmax=len(order),
                cbar=False, xticklabels=False, yticklabels=genes)
    # rows are clearly split, columns only faintly
    ax.vlines(np.arange(n + 1), 0, len(genes), color="#ececec", lw=0.25)
    ax.hlines(np.arange(len(genes) + 1), 0, n, color="white", lw=0.55)
    ax.tick_params(axis="y", length=0, pad=1, labelsize=4.4, labelcolor="#222222")
    ax.set_yticklabels(genes, rotation=0)
    for i, p in enumerate(pct):
        ax.text(n + 0.17, i + 0.5, p, fontsize=3.3, color="#555555", va="center", ha="left")

    # TMB stack
    ax = ax_px(x0, lay["tmb"][0], x1, lay["tmb"][1])
    sns.despine(ax=ax, bottom=True, offset={"left": 1.5})
    xs = np.arange(n) + 0.5
    low_h = np.array([low.get(i, (0, "D"))[0] for i in range(n)], dtype=float)
    low_c = [mut_colors[low.get(i, (0, "D"))[1]] for i in range(n)]
    red = np.array(red, dtype=float)
    top = np.array(top, dtype=float)
    green = np.array(tmb, dtype=float) - red - top - low_h
    ax.bar(xs, low_h, width=0.9, color=low_c, linewidth=0)
    ax.bar(xs, green, width=0.9, bottom=low_h, color=mut_colors["M"], linewidth=0)
    ax.bar(xs, red, width=0.9, bottom=low_h + green, color=mut_colors["N"], linewidth=0)
    ax.bar(xs, top, width=0.9, bottom=low_h + green + red, color="#f59a63", linewidth=0)
    ax.set_xlim(0, n)
    ax.set_ylim(0, max(tmb))
    ax.set_xticks([])
    ax.set_yticks([0, max(tmb)], ["0", str(max(tmb))], fontsize=3.3, fontweight="bold")
    ax.tick_params(axis="y", length=1.5, width=0.5, pad=0.5, color="#444444")
    ax.set_ylabel("TMB", fontsize=3.4, fontweight="bold", labelpad=-3)
    ax.spines["left"].set_linewidth(1.0)
    ax.spines["left"].set_color("#888888")

    # side bars
    ax = ax_px(lay["side"][0], lay["mat"][0], lay["side"][1], lay["mat"][1])
    sns.despine(ax=ax, top=False, bottom=True, left=True, offset={"top": 1})
    for i, g in enumerate(genes):
        left = 0
        for k in order:
            c = counts[g][k]
            if c:
                ax.barh(i + 0.5, c, left=left, height=0.84, color=mut_colors[k], linewidth=0)
                left += c
    xmax = max(sum(v.values()) for v in counts.values())
    ax.set_xlim(0, xmax)
    ax.set_ylim(len(genes), 0)
    ax.set_yticks([])
    ax.xaxis.tick_top()
    ax.set_xticks([0, xmax], ["0", str(xmax)], fontsize=3.3, fontweight="bold")
    ax.tick_params(axis="x", length=1.5, width=0.5, pad=0.3, color="#444444")
    ax.spines["top"].set_color("#888888")
    ax.spines["top"].set_linewidth(0.8)
    ov.text(sum(lay["side"]) / 2, lay["mat"][0] - 4.2, "No. of samples", fontsize=3.5, fontweight="bold", ha="center", va="center", color="#222222")

    # clinical tracks
    flat, row_idx = [], []
    for pal in track_pal:
        idx = {}
        for code, col in pal.items():
            idx[code] = len(flat)
            flat.append(col)
        row_idx.append(idx)
    clin = np.zeros((len(tracks), n), dtype=int)
    for r, tr in enumerate(tracks):
        for c in range(n):
            code = tr[c] if isinstance(tr, str) else tr.get(c, "U")
            clin[r, c] = row_idx[r][code]
    ax = ax_px(x0, lay["clin"][0], x1, lay["clin"][1])
    sns.heatmap(clin, ax=ax, cmap=ListedColormap(flat), vmin=-0.5, vmax=len(flat) - 0.5, cbar=False, linewidths=0.4,
                linecolor="white", xticklabels=False, yticklabels=False)
    step = (lay["clin"][1] - lay["clin"][0]) / len(tracks)
    for r, name in enumerate(track_names):
        ov.text(lay["clin_lab"], lay["clin"][0] + (r + 0.5) * step, name, fontsize=3.75, fontweight="bold", va="center", color="#222222")

    # mutation spectrum
    ax = ax_px(x0, lay["spec"][0], x1, lay["spec"][1])
    rows = np.array(spec, dtype=float)
    rows = np.column_stack([rows, np.clip(100 - rows.sum(axis=1), 0, None)])
    bottom = np.zeros(n)
    for j in range(6):
        ax.bar(xs, rows[:, j], width=0.93, bottom=bottom, color=spec_colors[j], linewidth=0)
        bottom += rows[:, j]
    ax.set_xlim(0, n)
    ax.set_ylim(0, 100)
    ax.axis("off")
    for ys, name, col in zip(lay["spec_y"], spec_names, spec_legend):
        ov.add_patch(Rectangle((lay["spec_sq"], ys - 2), 4, 4, color=col, lw=0))
        ov.text(lay["spec_sq"] + 7, ys, name, fontsize=3.7, fontweight="bold", va="center", color="#222222")

    ov.text(lay["title"][0], lay["title"][1], title, fontsize=6.6, fontweight="bold", ha="center", va="center", color="#111111")


def draw_legend(xoff):
    def px(z):
        return xoff + z / 3

    def py(z):
        return 310 + z / 3

    def item(xs, ys, label, color):
        ov.add_patch(Rectangle((px(xs) - 2, py(ys) - 2), 4, 4, color=color, lw=0))
        ov.text(px(xs) + 5.6, py(ys), label, fontsize=4.8, color="#4a4a4a", va="center")

    def head(xs, ys, label):
        ov.text(px(xs), py(ys), label, fontsize=4.8, color="#4a4a4a", va="center")

    for ys, k in zip([365, 392, 421, 451], "MIDS"):
        item(119, ys, mut_names[k], mut_colors[k])
    for ys, k in zip([364, 391, 419], "PNX"):
        item(333, ys, mut_names[k], mut_colors[k])
    head(538, 365, "Gender")
    item(556, 395, "Female", track_pal[0]["F"])
    item(556, 418, "Male", track_pal[0]["M"])
    head(649, 365, "Age(Years)")
    item(669, 395, ">60", track_pal[1]["G"])
    item(669, 418, "≤60", track_pal[1]["O"])
    head(765, 365, "Pathologic M")
    for ys, lab, k in zip([395, 418, 441, 465], ["M0", "M1", "MX", "Unknown"], "01XU"):
        item(784, ys, lab, track_pal[2][k])
    head(899, 365, "Pathologic N")
    for ys, lab, k in zip([395, 418, 441], ["N0", "N1", "N2"], "012"):
        item(917, ys, lab, track_pal[3][k])
    for ys, lab, k in zip([395, 418, 441], ["N3", "NX", "Unknown"], "3XU"):
        item(990, ys, lab, track_pal[3][k])
    head(110, 496, "Pathologic T")
    for ys, lab, k in zip([526, 549, 573, 596], ["T0", "T1", "T2", "T3"], "0123"):
        item(127, ys, lab, track_pal[4][k])
    for ys, lab, k in zip([526, 549, 573], ["T4", "TX", "Unknown"], "4XU"):
        item(197, ys, lab, track_pal[4][k])
    head(320, 496, "Pathologic Stage")
    for ys, lab, k in zip([524, 548, 572], ["Stage I", "Stage II", "Stage III"], "123"):
        item(338, ys, lab, track_pal[5][k])
    for ys, lab, k in zip([524, 548], ["Stage IV", "Unknown"], "4U"):
        item(458, ys, lab, track_pal[5][k])
    head(569, 496, "Smoking History")
    for ys, lab, k in zip([525, 548, 572], ["No", "Yes", "Unknown"], "NYU"):
        item(603, ys, lab, track_pal[6][k])
    head(730, 496, "Alcohol History")
    for ys, lab, k in zip([525, 548, 572], ["No", "Yes", "Unknown"], "NYU"):
        item(757, ys, lab, track_pal[7][k])
    head(880, 496, "HPV Testing")
    for ys, lab, k in zip([525, 548, 572], ["Negative", "Positive", "Unknown"], "NPU"):
        item(897, ys, lab, track_pal[8][k])


def draw_protein(gene, x0, x1, cy, muts, rate, nudges, right, dot_y):
    ln = lengths[gene]
    ax = ax_px(x0, cy - 34, x1, cy + 6)
    sns.despine(ax=ax, left=True)
    ax.set_xlim(0, ln)
    ax.set_ylim(6, -34)
    ax.add_patch(Rectangle((0, -3.4), ln, 6.8, facecolor="#8aa3a0", edgecolor="#555555", lw=0.6))
    for s, e, kind, name in domains.get(gene, []):
        ax.add_patch(Rectangle((s, -4.5), e - s, 9, facecolor=dom_colors[kind], edgecolor="#3a3a3a", lw=0.8))
        if name:
            ax.text((s + e) / 2, 0, name, fontsize=2.1, color="white", ha="center", va="center", clip_on=True)
    for pos, label, kind in muts:
        col = {"m": "#5cb270", "t": "#3b3b3b", "i": "#c8504a"}[kind]
        ax.plot([pos, pos], [-4.5, dot_y], color="#c3d3c6", lw=0.5, clip_on=False)
        ax.scatter([pos], [dot_y], s=6.5, color=col, lw=0, zorder=3, clip_on=False)
        dx, dy = nudges.get(label, (5, -4.8))
        ax.annotate(label, (pos, dot_y), xytext=(dx * 0.72, -dy * 0.72), textcoords="offset points", fontsize=3.6,
                    fontweight="bold", ha="center", va="center", color="#222222", linespacing=1.3,
                    annotation_clip=False)
    ax.set_yticks([])
    ax.set_xticks(ticks[gene], [str(t) for t in ticks[gene]], fontsize=3.2, fontweight="bold", color="#222222")
    ax.tick_params(axis="x", length=1.6, width=0.5, pad=0.4, color="#333333")
    ax.spines["bottom"].set_linewidth(0.5)
    ax.spines["bottom"].set_color("#333333")

    # gene name and transcript
    ov.text(x0 - 3.5, cy - 2.4, gene, fontsize=5.1, fontweight="bold", ha="right", va="center", color="#222222")
    ov.text(x0 - 3.5, cy + 6, nm_ids[gene], fontsize=5.1, fontweight="bold", ha="right", va="center", color="#222222")
    # mutation class line under the axis
    yl = cy + 15.5
    ov.text(right, yl, f"Somatic Mutation Rate: {rate:.2f}%", fontsize=3.15, fontweight="bold", ha="right", va="center", color="#333333")
    ov.text(right - 64.5, yl, "|", fontsize=3.4, fontweight="bold", ha="right", va="center", color="#e0603a")
    kinds = {m[2] for m in muts}
    tail = right - 66.5
    if "t" in kinds and "m" not in kinds:
        ov.scatter([tail - 25], [yl], s=6.5, color="#3b3b3b", lw=0)
        ov.text(tail, yl, "Truncating", fontsize=3.15, fontweight="bold", ha="right", va="center", color="#333333")
        return
    if "t" in kinds or "i" in kinds:
        name = "Truncating" if "t" in kinds else "In-frame"
        col = "#3b3b3b" if "t" in kinds else "#c8504a"
        ov.text(tail, yl, name, fontsize=3.15, fontweight="bold", ha="right", va="center", color="#333333")
        off = 25 if "t" in kinds else 19
        ov.scatter([tail - off], [yl], s=6.5, color=col, lw=0)
        tail = tail - off - 3
    ov.text(tail, yl, "Missense", fontsize=3.15, fontweight="bold", ha="right", va="center", color="#333333")
    ov.scatter([tail - 23], [yl], s=6.5, color="#5cb270", lw=0)


def draw_parts(x, y, label):
    # "4q12(PPAT)" gets a red gene name between black brackets
    if "(" in label:
        a, b = label.split("(")
        parts = [(a + "(", "#111111"), (b[:-1], "#e8232a"), (")", "#111111")]
    else:
        parts = [(label, "#111111")]
    rend = fig.canvas.get_renderer()
    for s, col in parts:
        t = ov.text(x, y, s, fontsize=5, fontweight="bold", color=col, va="center", ha="left")
        x = t.get_window_extent(rend).x1


def draw_gistic(ox, frame, ideo, ylim, ends, pos, score, xlim, thr, thr_lab, top, bottom, core, light,
                cyto, cyto_peak, cyto_y, lab_x, nums, num_x):
    # ox is the left pixel edge of the zoomed region, ylim are genome coordinates
    def px(z):
        return ox + z / 3

    def py(z):
        return 980 + z / 3

    x0, x1 = px(frame[0]), px(frame[1])
    y0, y1 = py(ylim[1]), py(ylim[0])
    starts = [ylim[1]] + list(ends[:-1])

    # ideogram
    ax = ax_px(px(ideo[0]), y0, px(ideo[1]), y1)
    for i, (s, e) in enumerate(zip(starts, ends)):
        ax.axhspan(s, e, color="black" if i % 2 else "white", lw=0)
    ax.set_ylim(*ylim)
    ax.set_xticks([])
    ax.set_yticks([])
    for sp in ax.spines.values():
        sp.set_color("#777777")
        sp.set_linewidth(0.9)

    ax = ax_px(x0, y0, x1, y1)
    ax.set_xscale("log", base=2)
    ax.set_xlim(*xlim)
    ax.set_ylim(*ylim)
    for i, (s, e) in enumerate(zip(starts, ends)):
        if i % 2:
            ax.axhspan(s, e, color="#e2e2e2", lw=0, zorder=0)
        ym = s + (e - s) * 0.5
        ax.plot(np.geomspace(xlim[0] * 2 ** 0.9, xlim[1] * 0.95, 17), np.full(17, ym), ls="none", marker=".", ms=0.9,
                color="#666666", mew=0, zorder=1)
    for y, v in zip(pos, score, strict=True):
        ax.fill_betweenx([y - 3.4, y, y + 3.4], [xlim[0], v, xlim[0]], xlim[0], color=light, lw=0, zorder=2)
        ax.plot([xlim[0], v], [y, y], color=core, lw=0.75, zorder=3, solid_capstyle="butt")
    ax.axvline(thr, color="#7cc36a", lw=0.9, zorder=4)
    ax.set_yticks([])
    ax.xaxis.set_minor_locator(NullLocator())
    ax.set_xticks(bottom[0], bottom[1], fontsize=3.3, fontweight="bold", color="#333333")
    ax.tick_params(axis="x", which="both", length=0, pad=1.5)
    sec = ax.secondary_xaxis("top")
    sec.xaxis.set_minor_locator(NullLocator())
    sec.set_xticks(top[0], top[1], fontsize=5, fontweight="bold", color="#111111")
    sec.tick_params(axis="x", which="both", length=0, pad=0.3)
    for sp in sec.spines.values():
        sp.set_visible(False)
    for sp in ax.spines.values():
        sp.set_color("#777777")
        sp.set_linewidth(1.0)
    if thr_lab:
        ov.text(x0 + thr_lab[1] / 3, y0 + thr_lab[2] / 3, thr_lab[0], fontsize=5, fontweight="bold", color="#222222", ha="center", va="center")

    # cytoband leaders
    xl = px(lab_x)
    for name, p, y in zip(cyto, cyto_peak, cyto_y, strict=True):
        ov.plot([x1, x1 + 3, xl - 1], [py(p), py(p), py(y)], color="#222222", lw=0.45)
        draw_parts(xl, py(y), name)
    for i, (n, y) in enumerate(zip(range(1, 23), nums)):
        ov.text(px(num_x[i % 2]), py(y), str(n), fontsize=5, fontweight="bold", ha="center", va="center", color="#111111")


# ---- panels A and B ----
draw_oncoplot(genes_a, pct_a, muts_a, tmb_a, tmb_a_red, tmb_a_top, tmb_a_low,
              [gender_a, age_a, m_a, n_a, t_a, stage_a, smoke_a, alcohol_a, hpv_a], spec_a, title_a,
              {"x": (37, 381), "tmb": (24, 85.5), "mat": (89, 312.7), "side": (394, 456), "clin": (315, 381), "clin_lab": 382.7,
               "spec": (384, 419), "spec_sq": 384.3, "spec_y": [385.3, 391.7, 398, 405, 411, 417.7], "title": (267, 18)})
draw_oncoplot(genes_b, pct_b, muts_b, tmb_b, tmb_b_red, tmb_b_top, tmb_b_low,
              [gender_b, age_b, m_b, n_b, t_b, stage_b, smoke_b, alcohol_b, hpv_b], spec_b, title_b,
              {"x": (497, 844.3), "tmb": (26, 87.7), "mat": (91.7, 317.7), "side": (857.7, 916), "clin": (320, 386), "clin_lab": 846.7,
               "spec": (390, 422.3), "spec_sq": 846.7, "spec_y": [390, 396, 402.3, 409.3, 415.7, 422], "title": (714, 20)})
draw_legend(0)
draw_legend(461)

# ---- panels C and D, layout in pixels: gene, left, right, centre line ----
layout_c = [("ATP7A", 44.3, 205.3, 557.3), ("DLST", 46.3, 207, 596), ("ATP7B", 44.7, 205.7, 635.7), ("POLE", 45, 205.7, 674),
            ("DLAT", 49, 210, 713.3), ("POLD1", 49, 210, 751.7), ("ETFDH", 48.3, 209.3, 790.7), ("OXA1L", 46, 207, 829.3),
            ("COX15", 47.7, 208.7, 867.7), ("CAT", 46, 209.3, 909), ("FDX1", 46, 207, 949.7)]
layout_c2 = [("NDUFB2", 264, 425, 555.3), ("PPAT", 266.3, 427.3, 595.7), ("RTEL1", 265.7, 426, 635.7), ("CDK5RAP1", 264, 425, 674.3),
             ("PDHA1", 267.3, 428, 714.3), ("SLC31A1", 263.7, 425, 752.3), ("ACO2", 261.7, 423.3, 790.7), ("DNA2", 267, 428, 829.3),
             ("ELP3", 263.3, 424.3, 866.7), ("MTFR1", 263.3, 424.3, 907.3), ("MTFR1L", 264, 425, 949.3)]
layout_d = [("POLE", 497.3, 675.3, 561.7), ("ATP7A", 497.3, 675.3, 604), ("ATP7B", 497.3, 675.3, 646.7), ("PDHA1", 502.7, 680, 689.3),
            ("ACO2", 499.3, 676.7, 732.3), ("POLD1", 502.3, 680, 776), ("LIPT1", 499.3, 676.7, 818), ("DLAT", 502.3, 680, 860),
            ("PDHB", 499.3, 676.7, 904), ("DLST", 499.3, 676.7, 949)]
layout_d2 = [("NDUFB6", 735, 912.3, 560), ("TIMMDC1", 732.7, 910.7, 603.3), ("DNA2", 737.3, 914.7, 646), ("NTHL1", 736.3, 912.7, 688),
             ("RTEL1", 736.3, 913.7, 731), ("CDK5RAP1", 733.3, 911.3, 775.3), ("MTFR1", 733.3, 910.7, 817.3), ("IDH2", 733, 910.3, 860.7),
             ("CAT", 736.3, 914, 903.7)]
nudge_c = {"R315W": (-7, -4.8), "E336K": (8, -4.8), "Q183*": (-9.5, -1), "E225D": (-7, -4.7), "E240*": (6.3, -4.7), "A246V": (11, -0.5),
           "N367S": (-6.7, -5), "H473M": (-10, -1), "H488_K489\ninsEMLSA": (16, -2), "L383V": (-11, 0), "K410T": (-3, -4.7),
           "E187Lfs*41": (-8, -4.7), "X43_splice": (11, -5), "X823_splice": (14, -5)}
nudge_d = {"X21_splice": (11, -5), "E597K": (-11, 0.7), "R685W": (7, -5), "F699Vfs*11": (18, 0.7), "E1091D": (-2, -5), "R1111Q": (11, 3),
           "E1376*": (12, 0), "W362R": (-4, -5), "I97V": (-3, -5), "S108Rfs*40": (11, -5)}
for gene, a, b, cy in layout_c:
    draw_protein(gene, a, b, cy, muts_c[gene], rates_c[gene], nudge_c, 210.7, -9)
for gene, a, b, cy in layout_c2:
    draw_protein(gene, a, b, cy, muts_c[gene], rates_c[gene], nudge_c, 428, -9)
for gene, a, b, cy in layout_d:
    draw_protein(gene, a, b, cy, muts_d[gene], rates_d[gene], nudge_d, 680, -9.6)
for gene, a, b, cy in layout_d2:
    draw_protein(gene, a, b, cy, muts_d[gene], rates_d[gene], nudge_d, 914, -9.6)

# ---- panels E to H ----
nums_e = [118, 190, 255, 315, 371, 425, 474, 520, 561, 603, 647, 690, 725, 754, 780, 805, 826, 848, 868, 884, 900, 911]
nums_g = [108, 181, 249, 308, 365, 420, 468, 515, 558, 600, 645, 687, 722, 752, 779, 803, 826, 847, 866, 885, 901, 910]
y_e = [182, 206, 281, 302, 338, 360, 416, 440, 461, 481, 505, 527, 548, 570, 624, 646, 668, 689, 711, 732, 754, 776, 798, 820,
       842, 863, 885, 907]
y_f = [185, 209, 279, 301, 328, 350, 372, 394, 415, 437, 459, 481, 503, 524, 546, 568, 590, 611, 633, 655, 678, 699, 721, 743,
       765, 787, 809, 831, 853, 874, 896, 917]
y_g = [73, 91, 110, 130, 150, 169, 188, 208, 227, 246, 267, 287, 306, 326, 346, 365, 385, 405, 424, 444, 464, 483, 503, 522, 542,
       562, 582, 602, 621, 641, 660, 680, 700, 720, 758, 776, 795, 815, 835, 855, 874, 893, 912, 931]
y_h = [76, 101, 119, 136, 154, 172, 189, 207, 225, 243, 260, 278, 295, 313, 331, 349, 366, 384, 402, 419, 437, 455, 472, 490, 508,
       526, 544, 560, 579, 597, 615, 633, 650, 667, 685, 707, 723, 740, 757, 775, 793, 811, 829, 847, 864, 882, 900, 918]
q_labels = ["0.25", "10$^{-4}$", "10$^{-10}$", "10$^{-20}$", "10$^{-50}$", "10$^{-200}$"]

draw_gistic(0, (106, 523), (75, 99), (917, 83), chr_ends_efh, pos_e, score_e, (0.084, 2.6), 0.114, ("0.12", 61, 16),
            ([.1, .2, .4, .8], ["0.1", "0.2", "0.4", "0.8"]), ([.114, .237, .385, .6, 1.0, 2.37], q_labels), "#e3171b", "#f28a86",
            cyto_e, cyto_e_peak, y_e, 546, nums_e, (36, 60))
draw_gistic(230, (93, 516), (60, 85), (920, 85), [e + 3 for e in chr_ends_efh], pos_f, score_f, (0.081, 2.67), 0.11, ("0.12", 64, 12),
            ([.1, .2, .4, .8], ["0.1", "0.2", "0.4", "0.8"]), ([.11, .228, .374, .61, 1.09, 2.44], q_labels), "#e3171b", "#f28a86",
            cyto_f, cyto_f_peak, y_f, 541, [n + 3 for n in nums_e], (18, 47))
draw_gistic(460, (48, 470), (16, 40), (918, 73), chr_ends_g, pos_g, score_g, (0.0405, 1.113), 0.054, None,
            ([.054, .1, .2, .4, .8], ["0.054", "0.1", "0.2", "0.4", "0.8"]), ([.054, .112, .18, .273, .528, .95], q_labels), "#134f8c", "#6f9fd0",
            cyto_g, cyto_g_peak, y_g, 492, nums_g, (-31, 0))
draw_gistic(685, (85, 502), (53, 78), (920, 88), [e + 3 for e in chr_ends_efh], pos_h, score_h, (0.0356, 1.115), 0.0484, None,
            ([.051, .1, .2, .4, .8], ["0.052", "0.1", "0.2", "0.4", "0.8"]), ([.0484, .102, .16, .317, .5, 1.02], q_labels), "#134f8c", "#6f9fd0",
            cyto_h, cyto_h_peak, y_h, 529, [n + 3 for n in nums_e], (12, 38))

# genes named against several cytobands, with their braces
gene_tags = [(460, 578, 631, "FDX1"), (460, 578, 649, "DLAT"), (460, 588, 739, "DLST"), (460, 588, 757, "GLRX5"), (460, 588, 776, "ISCA2"),
             (685, 611, 74, "SDHB"), (685, 609, 92, "MTFR1L"), (685, 622, 541, "DNA2"), (685, 622, 559, "CISD1"), (685, 622, 577, "COX15"),
             (685, 611, 624, "FDX1"), (685, 611, 642, "DLAT")]
for ox, zx, zy, name in gene_tags:
    ov.text(ox + zx / 3, 980 + zy / 3, name, fontsize=5, fontweight="bold", color="#e8232a", va="center")
braces = [(460, 570, 640, "{", 8), (460, 632, 640, "}", 8), (460, 581, 757, "{", 12), (460, 660, 757, "}", 12),
          (685, 603, 82, "{", 8), (685, 694, 82, "}", 8), (685, 614, 559, "{", 12), (685, 692, 559, "}", 12),
          (685, 604, 633, "{", 8), (685, 672, 633, "}", 8)]
for ox, zx, zy, s, size in braces:
    ov.text(ox + zx / 3, 980 + zy / 3, s, fontsize=size, color="#222222", va="center", ha="center", fontweight="light")

# panel letters
for letter, x, y in [("A", 2, 17), ("B", 468, 17), ("C", 3, 536), ("D", 460, 536), ("E", 4, 995), ("F", 232, 995), ("G", 447, 995), ("H", 688, 995)]:
    ov.text(x, y, letter, fontsize=14.5, fontweight="bold", color="black", ha="left", va="baseline")

fig.savefig("out.png", dpi=100, facecolor="white")
